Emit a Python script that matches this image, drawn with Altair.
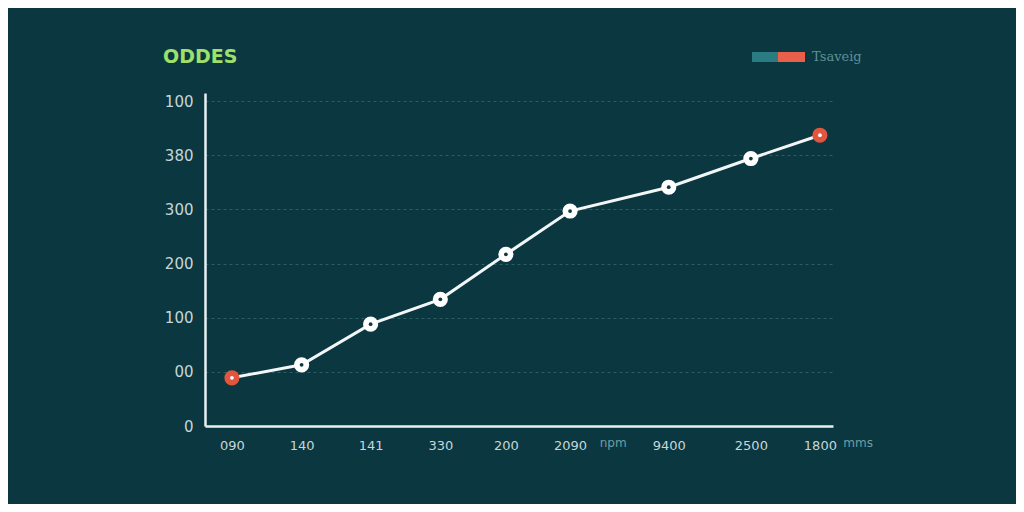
import altair as alt
import pandas as pd

# Data
x_pos = [0, 1.01, 2.01, 3.02, 3.97, 4.9, 6.33, 7.52, 8.52]
x_labels = ["090", "140", "141", "330", "200", "2090", "9400", "2500", "1800"]
y_vals = [0.89, 1.13, 1.88, 2.34, 3.17, 3.97, 4.41, 4.94, 5.37]
highlight = [True, False, False, False, False, False, False, False, True]
y_ticks = [0, 1, 2, 3, 4, 5, 6]
y_labels = ["0", "00", "100", "200", "300", "380", "100"]
unit_pos = [5.33, 8.86]
unit_text = ["npm", "mms"]

BG = "#0b3741"
df = pd.DataFrame({"x": x_pos, "y": y_vals, "hl": highlight, "lab": x_labels})
units = pd.DataFrame({"x": unit_pos, "t": unit_text})

def jskey(v):
    s = repr(float(v))
    return s[:-2] if s.endswith(".0") else s

xlab_expr = "{" + ",".join(f"'{jskey(p)}':'{l}'" for p, l in zip(x_pos, x_labels)) + "}[datum.value+'']"
ylab_expr = "{" + ",".join(f"'{jskey(p)}':'{l}'" for p, l in zip(y_ticks, y_labels)) + "}[datum.value+'']"

xs = alt.Scale(domain=[-0.39, 8.71], nice=False, zero=False)
ys = alt.Scale(domain=[0, 6.15], nice=False, zero=False)

x_enc = alt.X("x:Q", scale=xs, axis=alt.Axis(values=x_pos, labelExpr=xlab_expr, title=None,
        grid=False, ticks=False, domainColor="#e6f0f0", domainWidth=2.5, labelOverlap=False,
        labelColor="#c5d6d8", labelFontSize=13, labelPadding=13, labelFont="DejaVu Sans"))
y_enc = alt.Y("y:Q", scale=ys, axis=alt.Axis(values=y_ticks, labelExpr=ylab_expr, title=None,
        grid=True, gridColor="#2b5d63", gridDash=[3, 3], gridWidth=1, ticks=False,
        domainColor="#e6f0f0", domainWidth=2.5, labelOverlap=False,
        labelColor="#c5d6d8", labelFontSize=15, labelPadding=12, labelFont="DejaVu Sans"))

base = alt.Chart(df)
line = base.mark_line(color="#f2f6f6", strokeWidth=3).encode(x=x_enc, y=y_enc)
pts = base.mark_circle(size=230, opacity=1).encode(
    x="x:Q", y="y:Q",
    color=alt.Color("hl:N", scale=alt.Scale(domain=[False, True], range=["#ffffff", "#e2553f"]), legend=None))
dots = base.mark_circle(size=14, opacity=1).encode(
    x="x:Q", y="y:Q",
    color=alt.Color("hl:N", scale=alt.Scale(domain=[False, True], range=["#0b3741", "#ffffff"]), legend=None))
unit_txt = alt.Chart(units).mark_text(color="#6f9ea3", fontSize=12, baseline="middle", align="left",
                                      font="DejaVu Sans").encode(
    x="x:Q", text="t:N", y=alt.value(350))

title_txt = alt.Chart(pd.DataFrame({"t": ["ODDES"]})).mark_text(
    color="#9fe06b", fontSize=19, fontWeight="bold", align="left", baseline="middle", font="DejaVu Sans").encode(
    x=alt.value(-42), y=alt.value(-36), text="t:N")
sw1 = alt.Chart(pd.DataFrame({"a": [0]})).mark_rect(color="#2a7c82").encode(
    x=alt.value(547), x2=alt.value(573), y=alt.value(-41), y2=alt.value(-31))
sw2 = alt.Chart(pd.DataFrame({"a": [0]})).mark_rect(color="#e8604a").encode(
    x=alt.value(573), x2=alt.value(600), y=alt.value(-41), y2=alt.value(-31))
leg_txt = alt.Chart(pd.DataFrame({"t": ["Tsaveig"]})).mark_text(
    color="#5e9195", fontSize=13, align="left", baseline="middle", font="DejaVu Serif").encode(
    x=alt.value(607), y=alt.value(-36), text="t:N")

chart = alt.layer(line, pts, dots, unit_txt, title_txt, sw1, sw2, leg_txt).resolve_scale(color="independent").properties(
    width=628, height=333, background=BG,
    autosize=alt.AutoSizeParams(type="none"),
    padding={"left": 197, "top": 85, "right": 183, "bottom": 78},
).configure_view(stroke=None)

chart.save("out.html", embed_options={"renderer": "svg", "actions": False})
